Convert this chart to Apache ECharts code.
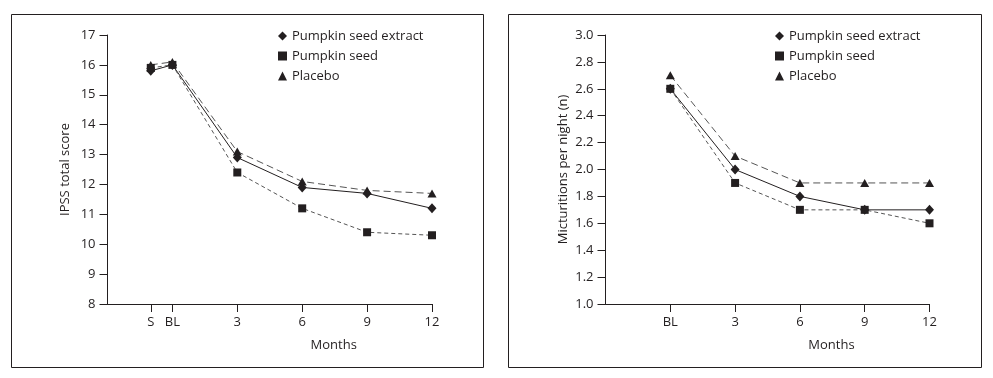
<!DOCTYPE html>
<html>
<head>
<meta charset="utf-8">
<script src="https://cdn.jsdelivr.net/npm/echarts@6/dist/echarts.min.js"></script>
<style>
html,body{margin:0;padding:0;background:#fff;}
#chart{width:993px;height:378px;}
</style>
</head>
<body>
<div id="chart"></div>
<script>
// ---- data ----
var seriesNames = ['Pumpkin seed extract', 'Pumpkin seed', 'Placebo'];

// Left panel: IPSS total score
var monthsLeft = [-1, 0, 3, 6, 9, 12];          // S, BL, 3, 6, 9, 12
var tickLabelsLeft = ['S', 'BL', '3', '6', '9', '12'];
var ipssExtract = [15.8, 16.0, 12.9, 11.9, 11.7, 11.2];
var ipssSeed    = [15.9, 16.0, 12.4, 11.2, 10.4, 10.3];
var ipssPlacebo = [16.0, 16.1, 13.1, 12.1, 11.8, 11.7];

// Right panel: micturitions per night
var monthsRight = [0, 3, 6, 9, 12];             // BL, 3, 6, 9, 12
var tickLabelsRight = ['BL', '3', '6', '9', '12'];
var nocExtract = [2.6, 2.0, 1.8, 1.7, 1.7];
var nocSeed    = [2.6, 1.9, 1.7, 1.7, 1.6];
var nocPlacebo = [2.7, 2.1, 1.9, 1.9, 1.9];

// ---- helpers ----
function pairs(xs, ys) { return xs.map(function (x, i) { return [x, ys[i]]; }); }
function labelFor(xs, labels) {
  return function (v) { var i = xs.indexOf(v); return i >= 0 ? labels[i] : ''; };
}

var INK = '#231f20';
var FONT = 'Open Sans';
var symbols = ['diamond', 'rect', 'triangle'];
var symbolSizes = [[9, 10], 8, [9, 8]];
var lineTypes = ['solid', [4, 3], [7, 4]];

function makeSeries(name, idx, axisIdx, data) {
  return {
    name: name, type: 'line', xAxisIndex: axisIdx, yAxisIndex: axisIdx,
    data: data, symbol: symbols[idx], symbolSize: symbolSizes[idx],
    showAllSymbol: true, animation: false,
    itemStyle: { color: INK },
    lineStyle: { color: idx === 0 ? INK : '#555', width: 1, type: lineTypes[idx] }
  };
}

function xAxisCfg(gridIdx, xs, labels) {
  return {
    type: 'value', gridIndex: gridIdx, min: -3, max: 12,
    name: 'Months', nameLocation: 'middle', nameGap: 35,
    nameTextStyle: { color: INK, fontFamily: FONT, fontSize: 13, padding: [0, 0, 0, 128] },
    axisLine: { onZero: false, lineStyle: { color: INK, width: 1 } },
    axisTick: { show: true, inside: false, length: 8, customValues: xs, lineStyle: { color: INK } },
    axisLabel: { customValues: xs, formatter: labelFor(xs, labels), color: INK,
                 fontFamily: FONT, fontSize: 13, margin: 12 },
    splitLine: { show: false }
  };
}

function yAxisCfg(gridIdx, name, min, max, interval, dec) {
  return {
    type: 'value', gridIndex: gridIdx, min: min, max: max, interval: interval,
    name: name, nameLocation: 'middle', nameGap: 36, nameRotate: 90,
    nameTextStyle: { color: INK, fontFamily: FONT, fontSize: 13 },
    axisLine: { show: true, onZero: false, lineStyle: { color: INK, width: 1 } },
    axisTick: { show: true, inside: false, length: 8, lineStyle: { color: INK } },
    axisLabel: { color: INK, fontFamily: FONT, fontSize: 13, margin: 12,
                 formatter: function (v) { return v.toFixed(dec); } },
    splitLine: { show: false }
  };
}

function legendCfg(left) {
  return {
    orient: 'vertical', left: left, top: 24, itemWidth: 9, itemHeight: 9, itemGap: 6,
    selectedMode: false,
    textStyle: { color: INK, fontFamily: FONT, fontSize: 13, lineHeight: 14 },
    data: seriesNames.map(function (n, i) {
      return { name: n, icon: symbols[i], itemStyle: { color: INK } };
    })
  };
}

var chart = echarts.init(document.getElementById('chart'), null, { renderer: 'canvas' });
chart.setOption({
  backgroundColor: '#fff',
  animation: false,
  textStyle: { fontFamily: FONT },
  graphic: [
    { type: 'rect', shape: { x: 11.5, y: 14.5, width: 472, height: 353 },
      style: { fill: 'none', stroke: INK, lineWidth: 1 }, silent: true },
    { type: 'rect', shape: { x: 508.5, y: 14.5, width: 473, height: 353 },
      style: { fill: 'none', stroke: INK, lineWidth: 1 }, silent: true }
  ],
  legend: [legendCfg(273), legendCfg(770)],
  grid: [
    { left: 107.5, right: 561, top: 35, bottom: 74 },
    { left: 605.5, right: 63.5, top: 35, bottom: 74 }
  ],
  xAxis: [xAxisCfg(0, monthsLeft, tickLabelsLeft), xAxisCfg(1, monthsRight, tickLabelsRight)],
  yAxis: [
    yAxisCfg(0, 'IPSS total score', 8, 17, 1, 0),
    yAxisCfg(1, 'Micturitions per night (n)', 1.0, 3.0, 0.2, 1)
  ],
  series: [
    makeSeries(seriesNames[0], 0, 0, pairs(monthsLeft, ipssExtract)),
    makeSeries(seriesNames[1], 1, 0, pairs(monthsLeft, ipssSeed)),
    makeSeries(seriesNames[2], 2, 0, pairs(monthsLeft, ipssPlacebo)),
    makeSeries(seriesNames[0], 0, 1, pairs(monthsRight, nocExtract)),
    makeSeries(seriesNames[1], 1, 1, pairs(monthsRight, nocSeed)),
    makeSeries(seriesNames[2], 2, 1, pairs(monthsRight, nocPlacebo))
  ]
});
</script>
</body>
</html>
